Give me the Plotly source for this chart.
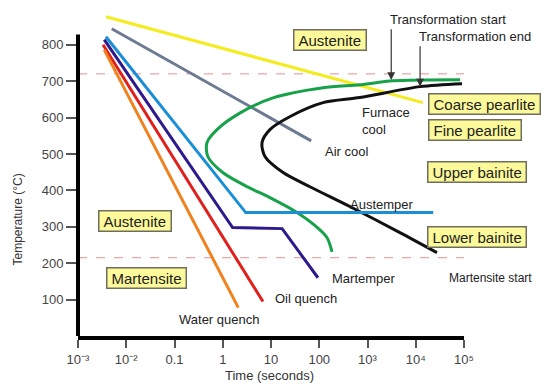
import plotly.graph_objects as go
import math

# ---------------- data ----------------
# Cooling paths: time in seconds, temperature in °C
yellow_t = [0.0038, 14000]
yellow_T = [877, 641]

furnace_t = [0.005, 68]          # grey line
furnace_T = [844, 536]

austemper_t = [0.0038, 3.0, 23000]
austemper_T = [822, 339, 339]

martemper_t = [0.0035, 1.6, 17, 94]
martemper_T = [814, 298, 295, 160]

oil_t = [0.0033, 6.8]
oil_T = [800, 95]

water_t = [0.0035, 2.1]
water_T = [786, 78]

# Transformation start (green C-curve)
start_t = [83000, 3400, 690, 120, 11, 2.3, 0.76, 0.47, 0.49, 1.0, 2.9, 9.5, 32, 82, 145, 184]
start_T = [704, 701, 690, 682, 654, 613, 567, 531, 493, 449, 413, 380, 342, 303, 270, 231]

# Transformation end (black C-curve)
end_t = [91000, 12300, 690, 120, 25, 9.5, 6.5, 7.5, 17.8, 64, 440, 4700, 27500]
end_T = [693, 685, 655, 641, 603, 567, 531, 493, 449, 410, 355, 284, 229]

# Reference temperatures (dashed lines)
ref_temps = [720, 215]

# Arrow markers: time, tip temperature, tail temperature
arrow_times = [3100, 12300]
arrow_tips = [703, 685]
arrow_tails = [847, 800]

# Axis ticks
y_ticks = [100, 200, 300, 400, 500, 600, 700, 800]
x_ticks = [0.001, 0.01, 0.1, 1, 10, 100, 1000, 10000, 100000]
x_ticktext = ["10⁻³", "10⁻²", "0.1", "1", "10", "100", "10³", "10⁴", "10⁵"]

# ---------------- figure ----------------
FONT = "Liberation Sans, Arial, sans-serif"
XMIN, XMAX = -3, 5
fig = go.Figure()

for T in ref_temps:
    fig.add_trace(go.Scatter(x=[x_ticks[0], x_ticks[-1]], y=[T, T], mode="lines",
                             line=dict(color="#E89090", width=1, dash="dash"),
                             hoverinfo="skip", showlegend=False))

series = [
    (yellow_t, yellow_T, "#F4EC1C", "linear"),
    (furnace_t, furnace_T, "#6C7B92", "linear"),
    (start_t, start_T, "#17A24A", "spline"),
    (end_t, end_T, "#111111", "spline"),
    (austemper_t, austemper_T, "#1A8FD8", "linear"),
    (martemper_t, martemper_T, "#2E1A8C", "linear"),
    (oil_t, oil_T, "#E0201C", "linear"),
    (water_t, water_T, "#F0821E", "linear"),
]
for xs, ys, c, shp in series:
    fig.add_trace(go.Scatter(x=xs, y=ys, mode="lines",
                             line=dict(color=c, width=3, shape=shp, smoothing=0.8),
                             hoverinfo="skip", showlegend=False))

ann = []
for t, tip, tail in zip(arrow_times, arrow_tips, arrow_tails):
    ann.append(dict(x=math.log10(t), y=tip, ax=math.log10(t), ay=tail,
                    xref="x", yref="y", axref="x", ayref="y", text="",
                    showarrow=True, arrowhead=2, arrowsize=1.3, arrowwidth=1.2,
                    arrowcolor="#333333"))

def px(lx):
    # log10(time) -> paper x
    return (lx - XMIN) / (XMAX - XMIN)

def box(text, lx, y):
    ann.append(dict(x=px(lx), y=y, xref="paper", yref="y", text=text, showarrow=False,
                    xanchor="center", yanchor="middle",
                    font=dict(family=FONT, size=15, color="#222222"),
                    bgcolor="#FCF99A", bordercolor="#6E6E5A", borderwidth=1.5,
                    borderpad=1))

def label(text, lx, y, size=13):
    ann.append(dict(x=px(lx), y=y, xref="paper", yref="y", text=text, showarrow=False,
                    xanchor="left", yanchor="middle", align="left",
                    font=dict(family=FONT, size=size, color="#222222")))

box("\u2009Austenite\u2009", 2.22, 814)
box("\u2009Coarse pearlite\u2009", 5.435, 638)
box("\u2009Fine pearlite\u2009", 5.23, 567)
box("\u2009Upper bainite\u2009", 5.27, 451)
box("\u2009Lower bainite\u2009", 5.27, 273)
box("\u2009Austenite\u2009", -1.82, 317)
box("\u2009Martensite\u2009", -1.59, 158)

label("Transformation start", 3.42, 869)
label("Transformation end", 4.03, 822)
label("Furnace<br>cool", 2.84, 591)
label("Air cool", 2.08, 506)
label("Austemper", 2.60, 361)
label("Martemper", 2.22, 158)
label("Martensite start", 4.65, 158, size=12)
label("Oil quench", 1.04, 103)
label("Water quench", -0.95, 45)

ann.append(dict(x=-0.155, y=0.36, xref="paper", yref="paper", text="Temperature (°C)",
                textangle=-90, showarrow=False, xanchor="center", yanchor="middle",
                font=dict(family=FONT, size=12, color="#333333")))
ann.append(dict(x=0.495, y=-0.151, xref="paper", yref="paper", text="Time (seconds)",
                showarrow=False, xanchor="center", yanchor="bottom",
                font=dict(family=FONT, size=13, color="#333333")))

fig.update_layout(
    width=552, height=388,
    margin=dict(l=78, r=88, t=12, b=52),
    paper_bgcolor="white", plot_bgcolor="white",
    annotations=ann,
    shapes=[dict(type="line", xref="paper", yref="y", x0=0, x1=0, y0=0, y1=828,
                 line=dict(color="black", width=4))],
    xaxis=dict(type="log", range=[XMIN, XMAX], showgrid=False, zeroline=False,
               showline=True, linecolor="black", linewidth=4,
               ticks="outside", ticklen=8, tickwidth=1.5, tickcolor="#555555",
               tickvals=x_ticks, ticktext=x_ticktext,
               tickfont=dict(family=FONT, size=13, color="#444444")),
    yaxis=dict(range=[0, 890], showgrid=False, zeroline=False, showline=False,
               ticks="outside", ticklen=11, tickwidth=1.5, tickcolor="#555555",
               tickvals=y_ticks,
               tickfont=dict(family=FONT, size=13, color="#444444")),
)

fig.write_html("out.html",
               config={"displayModeBar": False},
               post_script="document.body.style.margin='0';document.body.style.overflow='hidden';")
